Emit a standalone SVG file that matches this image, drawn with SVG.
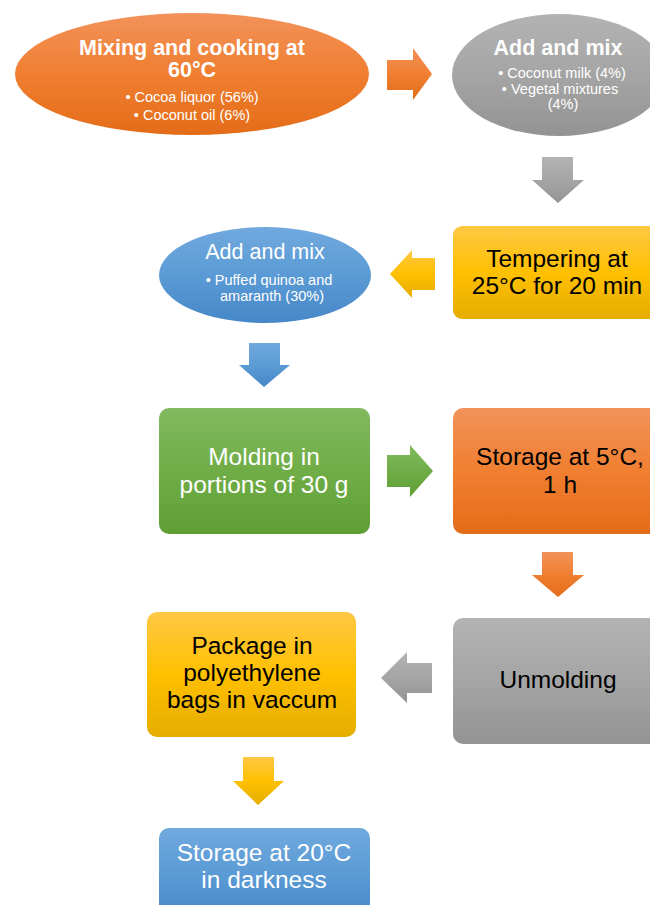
<svg xmlns="http://www.w3.org/2000/svg" width="650" height="905" viewBox="0 0 650 905">
  <defs>
    <linearGradient id="gOrange" x1="0" y1="0" x2="0" y2="1">
      <stop offset="0" stop-color="#F2925A"/>
      <stop offset="0.5" stop-color="#F07F31"/>
      <stop offset="1" stop-color="#E36C18"/>
    </linearGradient>
    <linearGradient id="gGray" x1="0" y1="0" x2="0" y2="1">
      <stop offset="0" stop-color="#B3B3B3"/>
      <stop offset="0.5" stop-color="#A5A5A5"/>
      <stop offset="1" stop-color="#939393"/>
    </linearGradient>
    <linearGradient id="gBlue" x1="0" y1="0" x2="0" y2="1">
      <stop offset="0" stop-color="#71A9DE"/>
      <stop offset="0.5" stop-color="#5B9BD5"/>
      <stop offset="1" stop-color="#4687C8"/>
    </linearGradient>
    <linearGradient id="gYellow" x1="0" y1="0" x2="0" y2="1">
      <stop offset="0" stop-color="#FFC845"/>
      <stop offset="0.5" stop-color="#FFC000"/>
      <stop offset="1" stop-color="#E5AD00"/>
    </linearGradient>
    <linearGradient id="gGreen" x1="0" y1="0" x2="0" y2="1">
      <stop offset="0" stop-color="#81BA5F"/>
      <stop offset="0.5" stop-color="#70AD47"/>
      <stop offset="1" stop-color="#5F9E35"/>
    </linearGradient>
  </defs>
  <style>
    text { font-family: "Liberation Sans", Arial, sans-serif; text-anchor: middle; }
    .title { font-size: 21.5px; font-weight: bold; fill: #FFFFFF; }
    .sub { font-size: 21.5px; fill: #FFFFFF; }
    .bullet { font-size: 14.5px; fill: #FFFFFF; }
    .big { font-size: 24.5px; }
    .w { fill: #FFFFFF; }
    .k { fill: #000000; }
  </style>

  <!-- process steps -->
  <g id="mixing-cooking">
    <ellipse cx="192" cy="74" rx="177" ry="61" fill="url(#gOrange)"/>
    <text class="title" x="192" y="55">Mixing and cooking at</text>
    <text class="title" x="192" y="77">60°C</text>
    <text class="bullet" x="192" y="102">• Cocoa liquor (56%)</text>
    <text class="bullet" x="192" y="120">• Coconut oil (6%)</text>
  </g>

  <g id="add-mix-coconut">
    <ellipse cx="559" cy="75" rx="107" ry="61" fill="url(#gGray)"/>
    <text class="title" x="558" y="55">Add and mix</text>
    <text class="bullet" x="562" y="78">• Coconut milk (4%)</text>
    <text class="bullet" x="560" y="94">• Vegetal mixtures</text>
    <text class="bullet" x="563" y="109">(4%)</text>
  </g>

  <g id="tempering">
    <rect x="453" y="226" width="210" height="93" rx="9" fill="url(#gYellow)"/>
    <text class="big k" x="557" y="267">Tempering at</text>
    <text class="big k" x="557" y="294">25°C for 20 min</text>
  </g>

  <g id="add-mix-puffed">
    <ellipse cx="265" cy="275" rx="106" ry="48" fill="url(#gBlue)"/>
    <text class="sub" x="265" y="259">Add and mix</text>
    <text class="bullet" x="269" y="285">• Puffed quinoa and</text>
    <text class="bullet" x="272" y="301">amaranth (30%)</text>
  </g>

  <g id="molding">
    <rect x="159" y="408" width="211" height="126" rx="10" fill="url(#gGreen)"/>
    <text class="big w" x="264" y="465">Molding in</text>
    <text class="big w" x="264" y="493">portions of 30 g</text>
  </g>

  <g id="storage-5c">
    <rect x="453" y="408" width="210" height="126" rx="10" fill="url(#gOrange)"/>
    <text class="big k" x="560" y="465">Storage at 5°C,</text>
    <text class="big k" x="560" y="493">1 h</text>
  </g>

  <g id="unmolding">
    <rect x="453" y="618" width="210" height="126" rx="10" fill="url(#gGray)"/>
    <text class="big k" x="558" y="688">Unmolding</text>
  </g>

  <g id="package">
    <rect x="147" y="612" width="209" height="125" rx="10" fill="url(#gYellow)"/>
    <text class="big k" x="252" y="654">Package in</text>
    <text class="big k" x="252" y="681">polyethylene</text>
    <text class="big k" x="252" y="708">bags in vaccum</text>
  </g>

  <g id="storage-20c">
    <rect x="159" y="828" width="211" height="90" rx="10" fill="url(#gBlue)"/>
    <text class="big w" x="264" y="861">Storage at 20°C</text>
    <text class="big w" x="264" y="888">in darkness</text>
  </g>

  <!-- block arrows between steps -->
  <g id="connectors">
    <polygon points="387,60 413,60 413,48 432,74 413,100 413,90 387,90" fill="url(#gOrange)"/>
    <polygon points="542,157 573,157 573,180 584,180 558,203 532,180 542,180" fill="url(#gGray)"/>
    <polygon points="435,258 435,290 412,290 412,298 390,274 412,250 412,258" fill="url(#gYellow)"/>
    <polygon points="249,343 280,343 280,365 290,365 264,387 239,365 249,365" fill="url(#gBlue)"/>
    <polygon points="387,455 410,455 410,445 433,471 410,497 410,487 387,487" fill="url(#gGreen)"/>
    <polygon points="542,552 573,552 573,575 584,575 558,597 532,575 542,575" fill="url(#gOrange)"/>
    <polygon points="432,663 432,693 407,693 407,703 381,678 407,652 407,663" fill="url(#gGray)"/>
    <polygon points="243,757 274,757 274,781 284,781 258,805 233,781 243,781" fill="url(#gYellow)"/>
  </g>
</svg>
